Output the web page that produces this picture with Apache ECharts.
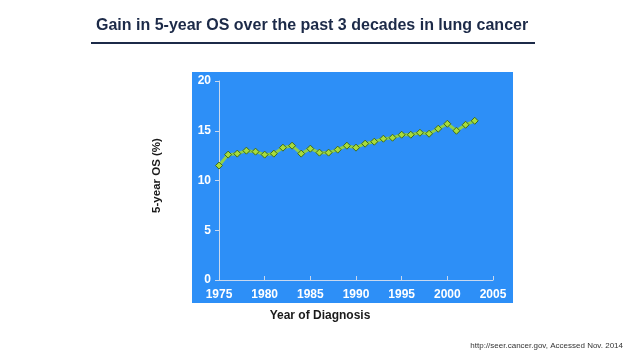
<!DOCTYPE html>
<html><head><meta charset="utf-8">
<script src="https://cdn.jsdelivr.net/npm/echarts@6/dist/echarts.min.js"></script>
<style>html,body{margin:0;padding:0;background:#fff}#c{width:638px;height:359px}</style>
</head><body><div id="c"></div>
<script>
var years = [1975,1976,1977,1978,1979,1980,1981,1982,1983,1984,1985,1986,1987,1988,1989,1990,1991,1992,1993,1994,1995,1996,1997,1998,1999,2000,2001,2002,2003];
var osValues = [11.5,12.6,12.7,13.0,12.9,12.6,12.7,13.3,13.5,12.7,13.2,12.8,12.8,13.1,13.5,13.3,13.7,13.9,14.2,14.3,14.6,14.6,14.8,14.7,15.2,15.7,15.0,15.6,16.0];
var xTicks = [1975,1980,1985,1990,1995,2000,2005];
var yTicks = [0,5,10,15,20];
var titleText = 'Gain in 5-year OS over the past 3 decades in lung cancer';
var yName = '5-year OS (%)';
var xName = 'Year of Diagnosis';
var sourceText = 'http://seer.cancer.gov, Accessed Nov. 2014';

var chart = echarts.init(document.getElementById('c'));
var font = 'Liberation Sans, Arial, sans-serif';
chart.setOption({
  animation: false,
  backgroundColor: '#fff',
  title: {
    text: titleText, left: 91, top: 13,
    textStyle: {fontFamily: font, fontSize: 16, fontWeight: 'bold', color: '#1c2a48'}
  },
  graphic: [
    {type: 'rect', shape: {x: 91, y: 42, width: 444, height: 2}, style: {fill: '#1c2a48'}, z: 0},
    {type: 'rect', shape: {x: 192, y: 72, width: 321, height: 231}, style: {fill: '#2d8ff7'}, z: -1, silent: true},
    {type: 'text', right: 15, top: 342, style: {text: sourceText, font: '8px ' + font, fill: '#333'}}
  ],
  grid: {left: 219, right: 145, top: 81, bottom: 79},
  xAxis: {
    type: 'value', min: 1975, max: 2005, interval: 5,
    name: xName, nameLocation: 'middle', nameGap: 30,
    nameTextStyle: {fontFamily: font, fontSize: 12, fontWeight: 'bold', color: '#1a1a1a', padding: [0, 72, 0, 0]},
    axisLine: {show: true, lineStyle: {color: '#c8d8ee', width: 1}},
    axisTick: {show: true, inside: true, length: 4, lineStyle: {color: '#c8d8ee'}},
    axisLabel: {fontFamily: font, fontSize: 12, fontWeight: 'bold', color: '#fff', margin: 9,
      formatter: function(v){ return xTicks.indexOf(v) >= 0 ? String(v) : ''; }},
    splitLine: {show: false}
  },
  yAxis: {
    type: 'value', min: 0, max: 20, interval: 5,
    name: yName, nameLocation: 'middle', nameGap: 56, nameRotate: 90,
    nameTextStyle: {fontFamily: font, fontSize: 11.5, fontWeight: 'bold', color: '#1a1a1a', padding: [0, 0, 0, 10]},
    axisLine: {show: true, lineStyle: {color: '#c8d8ee', width: 1}},
    axisTick: {show: true, length: 4, lineStyle: {color: '#c8d8ee'}},
    axisLabel: {fontFamily: font, fontSize: 12, fontWeight: 'bold', color: '#fff', margin: 8,
      formatter: function(v){ return yTicks.indexOf(v) >= 0 ? String(v) : ''; }},
    splitLine: {show: false}
  },
  series: [{
    type: 'line',
    data: years.map(function(y, i){ return [y, osValues[i]]; }),
    symbol: 'diamond', symbolSize: 7,
    lineStyle: {color: '#8fd04a', width: 3},
    itemStyle: {color: '#a8dc3a', borderColor: '#3d6b1c', borderWidth: 1},
    z: 3
  }]
});
</script></body></html>
